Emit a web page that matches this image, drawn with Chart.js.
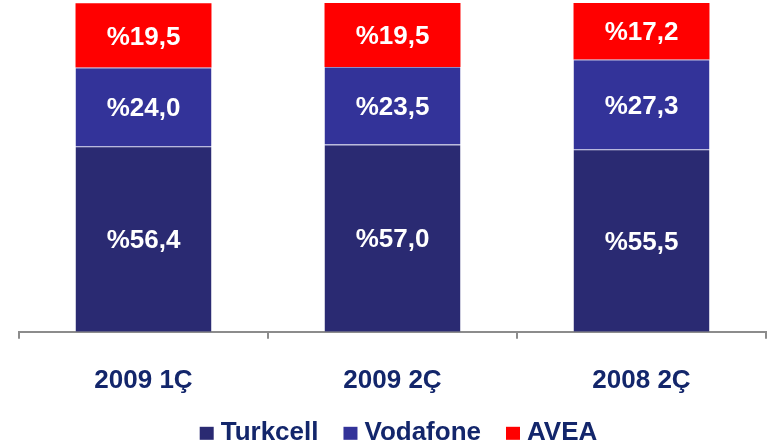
<!DOCTYPE html>
<html><head><meta charset="utf-8">
<script src="https://cdn.jsdelivr.net/npm/chart.js@4/dist/chart.umd.min.js"></script>
<style>html,body{margin:0;padding:0;background:#fff}#w{width:769px;height:446px}</style>
</head><body><div id="w"><canvas id="c"></canvas></div>
<script>
const categories = ["2009 1Ç", "2009 2Ç", "2008 2Ç"];
const turkcell = [56.4, 57.0, 55.5];
const vodafone = [24.0, 23.5, 27.3];
const avea = [19.5, 19.5, 17.2];
const seriesNames = ["Turkcell", "Vodafone", "AVEA"];

const FONT = "'Liberation Sans', Arial, sans-serif";
const TXT = "#13266b";
const fmt = v => "%" + v.toFixed(1).replace(".", ",");
const labelPlugin = {
  id: "segLabels",
  afterDatasetsDraw(chart) {
    const ctx = chart.ctx;
    ctx.save();
    ctx.fillStyle = "#ffffff";
    ctx.font = "bold 26px " + FONT;
    ctx.textAlign = "center";
    ctx.textBaseline = "middle";
    chart.data.datasets.forEach((ds, i) => {
      chart.getDatasetMeta(i).data.forEach((bar, j) => {
        const p = bar.getProps(["x", "y", "base"], true);
        ctx.fillText(fmt(ds.data[j]), p.x, (p.y + p.base) / 2 + 2);
      });
    });
    ctx.restore();
  }
};
const legendPlugin = {
  id: "customLegend",
  afterDraw(chart) {
    const ctx = chart.ctx;
    ctx.save();
    ctx.font = "bold 26px " + FONT;
    ctx.textBaseline = "middle";
    const box = 13, gapText = 8, gapItem = 25;
    const items = chart.data.datasets.map(ds => ({ t: ds.label, c: ds.backgroundColor, w: ctx.measureText(ds.label).width }));
    let total = items.reduce((s, it) => s + box + gapText + it.w, 0) + gapItem * (items.length - 1);
    const cx = (chart.chartArea.left + chart.chartArea.right) / 2 + 6;
    let x = cx - total / 2;
    const cy = chart.chartArea.bottom + 101;
    items.forEach(it => {
      ctx.fillStyle = it.c;
      ctx.fillRect(x, cy - 6, box + 1, box);
      ctx.fillStyle = TXT;
      ctx.fillText(it.t, x + box + gapText, cy);
      x += box + gapText + it.w + gapItem;
    });
    ctx.restore();
  }
};

new Chart(document.getElementById("c"), {
  type: "bar",
  data: {
    labels: categories,
    datasets: [
      { label: seriesNames[0], data: turkcell, backgroundColor: "#2a2a72", borderColor: "#8c8cc8", borderWidth: {top: 1}, borderSkipped: false },
      { label: seriesNames[1], data: vodafone, backgroundColor: "#333399", borderColor: "#8c8cc8", borderWidth: {top: 1}, borderSkipped: false },
      { label: seriesNames[2], data: avea, backgroundColor: "#ff0000", borderWidth: 0 }
    ]
  },
  options: {
    responsive: true,
    maintainAspectRatio: false,
    animation: false,
    layout: { padding: { left: 19, right: 3, top: 3, bottom: 24 } },
    datasets: { bar: { categoryPercentage: 1, barPercentage: 0.546 } },
    scales: {
      x: {
        stacked: true,
        grid: { drawOnChartArea: false, drawTicks: true, tickLength: 7, color: "#8c8c8c", lineWidth: 2, offset: true },
        border: { display: true, color: "#8c8c8c", width: 2 },
        ticks: { color: TXT, font: { family: FONT, size: 26, weight: "bold" }, padding: 26 }
      },
      y: { stacked: true, display: false, min: 0, max: 100 }
    },
    plugins: {
      legend: { display: false },
      tooltip: { enabled: false }
    }
  },
  plugins: [labelPlugin, legendPlugin]
});
</script></body></html>
